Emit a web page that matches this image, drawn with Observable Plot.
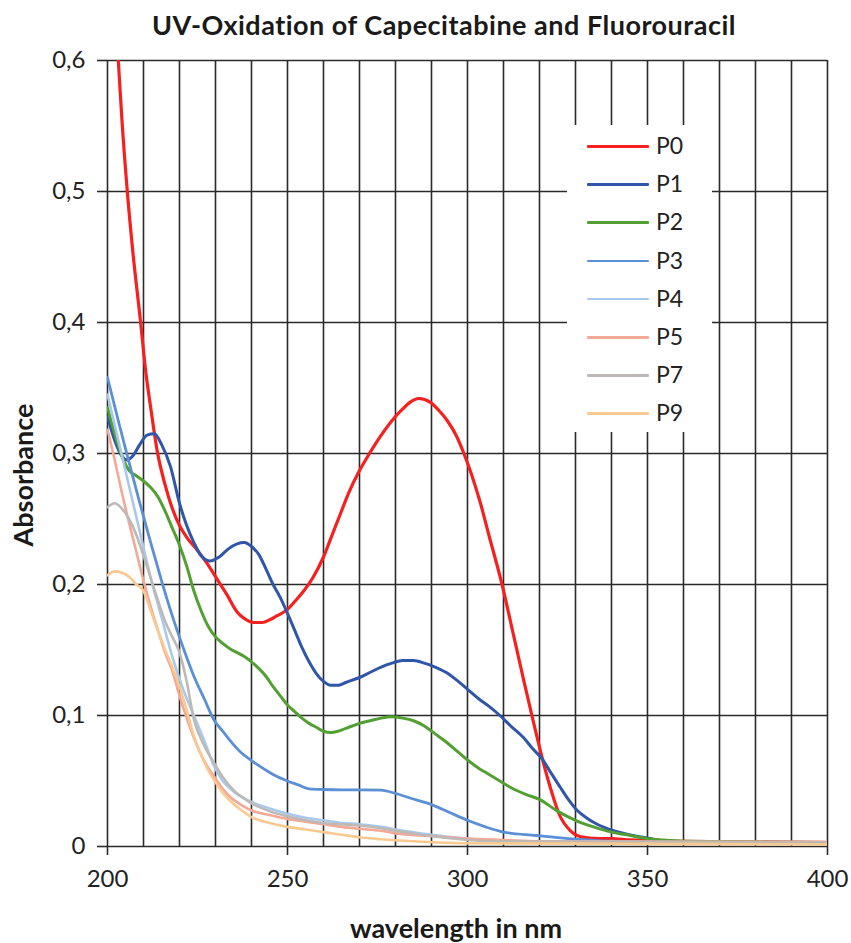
<!DOCTYPE html>
<html>
<head>
<meta charset="utf-8">
<script src="https://cdn.jsdelivr.net/npm/d3@7"></script>
<script src="https://cdn.jsdelivr.net/npm/@observablehq/plot@0.6"></script>
<style>
  body { margin: 0; background: #fff; font-family: Lato, "Open Sans", sans-serif; }
  #wrap { position: relative; width: 851px; height: 943px; }
  #title { position: absolute; left: 0; top: 8px; width: 888px; text-align: center;
           font-weight: bold; font-size: 27px; letter-spacing: 0.5px; color: #1a1a1a; white-space: nowrap; }
  #xlabel { position: absolute; left: 0; width: 912px; top: 912px; text-align: center; line-height: 32px;
            font-weight: bold; font-size: 27px; color: #1a1a1a; white-space: nowrap; }
  #ylabel { position: absolute; left: 22px; top: 475px; transform: translate(-50%, -50%) rotate(-90deg);
            font-weight: bold; font-size: 27px; color: #1a1a1a; white-space: nowrap; }
  #legend { position: absolute; left: 567px; top: 125px; width: 145px; height: 307px; background: #fff; }
  #legend .row { position: absolute; left: 0; height: 20px; }
  #legend .sw { position: absolute; left: 20px; width: 62px; top: 9px; border-radius: 1px; }
  #legend .lb { position: absolute; left: 89px; top: -5px; font-size: 23px; color: #222; }
</style>
</head>
<body>
<div id="wrap">
  <div id="chart"></div>
  <div id="title">UV-Oxidation of Capecitabine and Fluorouracil</div>
  <div id="xlabel">wavelength in nm</div>
  <div id="ylabel">Absorbance</div>
  <div id="legend"></div>
</div>
<script>
// ---- Data (wavelength nm, absorbance) ----
const seriesNames = ["P0", "P1", "P2", "P3", "P4", "P5", "P7", "P9"];
const seriesColors = ["#f52020", "#2f56a8", "#52a032", "#5b8fd6", "#a9c9ec", "#f4a896", "#bdb9b6", "#fac98f"];
const seriesWidths = [3.2, 3, 3, 2.8, 2.6, 2.6, 2.6, 2.6];

const p0 = [[200,0.74],[202,0.645],[203,0.6],[204,0.555],[205.5,0.5],[207,0.455],[209.2,0.4],[210.6,0.363],[212,0.335],[213.8,0.302],[216,0.276],[218,0.258],[220,0.245],[222,0.236],[225,0.226],[227.7,0.216],[230,0.206],[233,0.193],[236,0.179],[238,0.174],[240.6,0.171],[243,0.171],[245,0.173],[247,0.176],[250,0.181],[252,0.187],[254.5,0.195],[257,0.205],[260,0.221],[262,0.235],[264.7,0.254],[267,0.27],[270,0.287],[273,0.301],[275.8,0.313],[279,0.325],[282,0.334],[284,0.339],[286.5,0.342],[289.7,0.339],[292,0.333],[294.4,0.325],[297,0.313],[299,0.3],[301,0.285],[303.6,0.262],[306,0.237],[309.6,0.2],[312,0.171],[315.6,0.127],[318.4,0.094],[320.7,0.068],[323,0.045],[325.4,0.025],[328.6,0.012],[332.3,0.007],[337,0.006],[340,0.006],[345,0.005],[360,0.004],[400,0.003]];
const p1 = [[200,0.328],[202,0.31],[204,0.298],[205.5,0.295],[207,0.298],[209,0.307],[211,0.314],[213,0.315],[215,0.307],[217.5,0.29],[220,0.262],[222,0.245],[224,0.232],[226,0.222],[228.5,0.218],[231,0.221],[233.5,0.227],[236,0.231],[238,0.232],[240,0.229],[242,0.223],[244,0.212],[246,0.2],[248,0.19],[250,0.178],[252,0.165],[254,0.152],[256,0.141],[258,0.132],[260,0.126],[262,0.123],[264,0.123],[266,0.125],[268,0.127],[270,0.129],[273,0.133],[276,0.137],[279,0.14],[282,0.142],[285,0.142],[288,0.14],[291,0.137],[294,0.133],[297,0.127],[300,0.12],[303,0.113],[306,0.107],[309,0.1],[312,0.092],[315.6,0.083],[318,0.075],[320.7,0.067],[323,0.057],[325.8,0.045],[328,0.036],[330.5,0.0275],[333,0.022],[336,0.017],[340.6,0.012],[346,0.0084],[351,0.006],[355,0.004],[360,0.003],[400,0.003]];
const p2 = [[200,0.335],[202,0.315],[204,0.298],[206,0.287],[208,0.283],[210,0.279],[212,0.274],[214,0.267],[216,0.256],[218,0.243],[220,0.23],[222,0.214],[224,0.195],[226,0.18],[228,0.168],[230,0.16],[232,0.155],[234,0.151],[236,0.148],[238,0.145],[240,0.141],[242,0.136],[244,0.13],[246,0.122],[248,0.115],[250,0.108],[252,0.103],[254,0.098],[256,0.094],[258,0.091],[260,0.088],[262,0.087],[264,0.088],[266,0.09],[268,0.092],[270,0.094],[273,0.096],[276,0.098],[279,0.099],[282,0.098],[285,0.096],[288,0.092],[291,0.086],[294,0.08],[297,0.073],[300,0.066],[303,0.06],[306,0.055],[309,0.05],[312,0.045],[316,0.04],[320,0.036],[325,0.027],[330,0.02],[335,0.015],[340,0.011],[345,0.0085],[350,0.006],[354,0.005],[360,0.004],[400,0.003]];
const p3 = [[200,0.358],[203,0.325],[206,0.293],[209,0.262],[212,0.232],[215,0.203],[218,0.176],[221,0.152],[224,0.13],[227,0.112],[229.5,0.097],[232,0.088],[234,0.081],[237,0.072],[240,0.0656],[243,0.06],[246,0.055],[250,0.05],[253,0.047],[256,0.044],[260,0.0435],[265,0.0433],[270,0.0433],[276,0.043],[280,0.0405],[284,0.037],[290,0.032],[295,0.026],[300,0.02],[305,0.015],[310,0.011],[319,0.0084],[328,0.006],[340,0.004],[360,0.003],[400,0.003]];
const p4 = [[200,0.345],[203,0.31],[206,0.275],[209,0.24],[212,0.205],[215,0.175],[218,0.145],[221,0.12],[224,0.1],[227,0.08],[229.5,0.062],[232,0.05],[235,0.042],[240,0.034],[245,0.029],[250,0.025],[255,0.022],[260,0.02],[265,0.018],[270,0.017],[276,0.015],[280,0.013],[290,0.009],[300,0.006],[310,0.004],[330,0.003],[400,0.003]];
const p5 = [[200,0.318],[202,0.295],[204,0.27],[206,0.247],[208,0.225],[210,0.203],[212,0.183],[214,0.165],[216,0.148],[218,0.134],[220,0.115],[222,0.098],[224,0.083],[226,0.07],[228,0.06],[230,0.052],[232,0.044],[234,0.038],[237,0.032],[240,0.0275],[245,0.024],[250,0.021],[255,0.019],[260,0.017],[265,0.015],[270,0.0135],[276,0.012],[280,0.01],[290,0.008],[300,0.006],[310,0.005],[320,0.004],[400,0.0035]];
const p7 = [[200,0.259],[202,0.262],[204,0.258],[206,0.25],[208,0.238],[210,0.222],[212,0.205],[214,0.188],[216,0.172],[218,0.16],[220,0.148],[222,0.126],[224,0.097],[226,0.082],[228,0.071],[230,0.062],[232,0.053],[235,0.043],[240,0.033],[245,0.027],[250,0.023],[255,0.02],[260,0.018],[265,0.017],[270,0.016],[276,0.014],[280,0.012],[290,0.008],[300,0.005],[310,0.004],[400,0.003]];
const p9 = [[200,0.207],[202,0.21],[204,0.209],[206,0.206],[208,0.2],[210,0.195],[212,0.18],[214,0.165],[216,0.15],[218,0.137],[220,0.122],[222,0.104],[224,0.084],[226,0.07],[228,0.058],[230,0.049],[232,0.041],[234,0.035],[237,0.028],[240,0.0225],[245,0.018],[250,0.015],[255,0.013],[260,0.011],[265,0.009],[270,0.007],[276,0.0055],[285,0.004],[300,0.0025],[400,0.0015]];
const seriesData = [p0, p1, p2, p3, p4, p5, p7, p9];

// ---- Axis ticks ----
const xTicks = [200, 250, 300, 350, 400];
const xGrid = [200, 210, 220, 230, 240, 250, 260, 270, 280, 290, 300, 310, 320, 330, 340, 350, 360, 370, 380, 390, 400];
const yTicks = [0, 0.1, 0.2, 0.3, 0.4, 0.5, 0.6];

const table = seriesNames.flatMap((name, i) =>
  seriesData[i].map(([x, y]) => ({ name, x, y })));

const fmtY = d => d === 0 ? "0" : d.toFixed(1).replace(".", ",");

const lineMarks = seriesNames.map((name, i) =>
  Plot.line(table.filter(d => d.name === name), {
    x: "x", y: "y", stroke: seriesColors[i], strokeWidth: seriesWidths[i],
    curve: "monotone-x", clip: true
  }));

const chart = Plot.plot({
  width: 851,
  height: 943,
  marginTop: 60,
  marginBottom: 97,
  marginLeft: 107,
  marginRight: 24,
  style: { fontFamily: "Lato, 'Open Sans', sans-serif", fontSize: "24px", color: "#222", background: "transparent" },
  x: { domain: [200, 400] },
  y: { domain: [0, 0.6] },
  marks: [
    Plot.gridX(xGrid, { stroke: "#2a2a2a", strokeOpacity: 1, strokeWidth: 1.6 }),
    Plot.gridY(yTicks, { stroke: "#2a2a2a", strokeOpacity: 1, strokeWidth: 1.6 }),
    Plot.axisX(xTicks, { tickSize: 9, tickPadding: 14, tickFormat: d => String(d), label: null,
      fontSize: 24, stroke: "#2a2a2a", strokeWidth: 1.6 }),
    Plot.axisY(yTicks, { tickSize: 10, tickPadding: 12, tickFormat: fmtY, label: null,
      fontSize: 24, stroke: "#2a2a2a", strokeWidth: 1.6 }),
    ...lineMarks
  ]
});
document.getElementById("chart").appendChild(chart);

// ---- Legend ----
const legend = document.getElementById("legend");
seriesNames.forEach((name, i) => {
  const row = document.createElement("div");
  row.className = "row";
  row.style.top = (11 + i * 38.2) + "px";
  const sw = document.createElement("div");
  sw.className = "sw";
  sw.style.height = seriesWidths[i] + "px";
  sw.style.background = seriesColors[i];
  const lb = document.createElement("div");
  lb.className = "lb";
  lb.textContent = name;
  row.appendChild(sw);
  row.appendChild(lb);
  legend.appendChild(row);
});
</script>
</body>
</html>
